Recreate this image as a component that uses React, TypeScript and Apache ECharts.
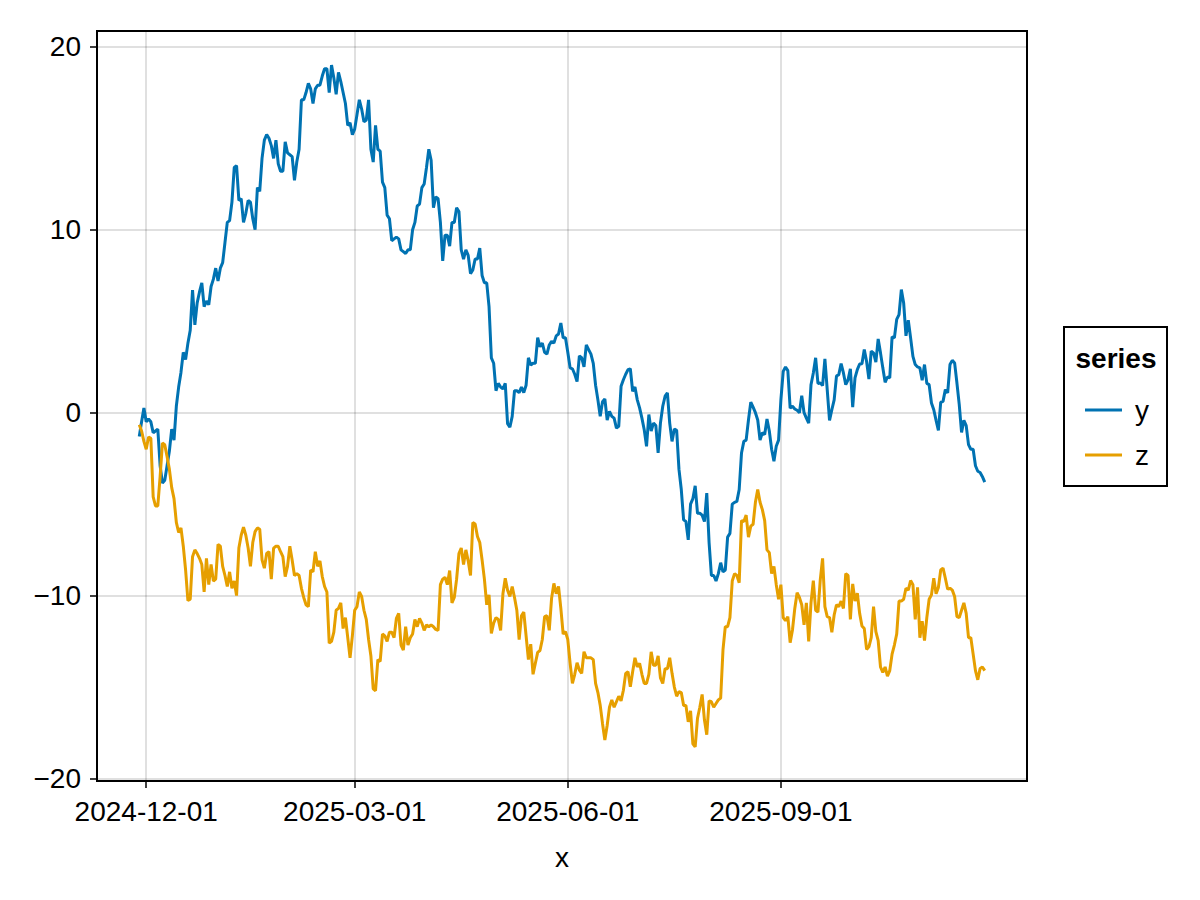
import React, { useEffect, useRef } from "react";
import * as echarts from "echarts";

const startDate = "2024-11-28";
const seriesNames = ["y", "z"];
const seriesColors = ["#0072B2", "#E69F00"];

const yValues = [
  -1.3, -0.5, 0.26, -0.5, -0.35, -0.5, -1.1, -1.0, -0.9, -2.9, -3.85, -3.7, -2.9, -2.1, -0.9, -1.5,
  0.35, 1.4, 2.2, 3.3, 2.9, 3.8, 4.5, 6.7, 4.8, 6.0, 6.6, 7.1, 5.8, 6.1, 5.9, 6.9, 7.3, 7.9, 7.2, 7.9, 8.2, 9.3, 10.4, 10.5, 11.5,
  13.4, 13.5, 11.6, 11.7, 10.4, 10.9, 11.6, 11.5, 10.6, 10.0, 12.3, 12.1, 13.9, 14.9, 15.2, 15.0, 14.6, 13.9, 14.9, 13.6,
  13.2, 13.2, 14.8, 14.2, 14.1, 14.0, 12.7, 13.7, 14.4,
  17.1, 17.1, 17.5, 18.0, 17.7, 16.9, 17.7, 17.9, 17.9, 18.4, 18.8, 18.8, 17.5, 19.0, 18.3, 17.4, 18.6, 18.1, 17.5, 16.9, 15.7,
  15.85, 15.2, 15.5, 16.3, 17.1, 16.6, 15.9, 16.0, 17.1, 14.4,
  13.7, 15.7, 14.4, 14.3, 12.6, 12.3, 10.8, 10.6, 9.4, 9.5,
  9.6, 9.5, 8.9, 8.8, 8.7, 8.9, 8.9, 10.0, 10.4, 11.3,
  11.4, 12.3, 12.5, 13.4, 14.4, 13.8, 11.2, 11.8, 11.7, 10.4,
  8.3, 9.7, 9.7, 9.1, 10.4, 10.4, 11.2, 11.0, 8.9, 8.4,
  8.9, 8.6, 7.6, 7.8, 8.4, 8.4, 9.0, 7.5, 7.1, 7.1,
  5.8, 3.0, 2.7, 1.2, 1.6, 1.4, 1.3, 1.6, -0.6, -0.8,
  -0.2, 1.2, 1.2, 1.1, 1.4, 1.1, 1.5, 3.0, 2.6, 2.7,
  2.7, 4.1, 3.6, 3.8, 3.3, 3.2, 3.7, 3.9, 3.8, 4.2,
  4.3,
  4.9, 4.1, 4.1, 3.3, 2.45, 2.4, 2.1, 1.7, 3.1, 3.0,
  2.5, 3.7, 3.45, 3.2, 2.7, 1.5, 0.7, -0.2, 0.6, 0.75,
  -0.4, 0.07, -0.2, -0.3, -0.84, -0.75, 1.44, 1.8, 2.1, 2.35,
  2.4, 1.17, 1.4, 0.7, 0.26, -0.3, -0.93, -1.84, -0.1, -1.0,
  -0.57, -0.7, -2.2, -0.57, 0.35, 0.9, 1.08, -0.57, -1.57, -0.9,
  -0.97, -3.1, -4.2, -5.86, -5.95, -6.95, -5.0, -4.7, -4.0, -5.5,
  -5.5, -5.6, -5.95, -4.4, -7.1, -8.9, -8.9, -9.2, -8.8, -8.2,
  -8.7, -8.6, -6.8, -6.6, -5.0, -4.9, -4.85, -4.2, -2.2, -1.57,
  -1.5, -0.4, 0.57, 0.3, 0.0, -0.4, -1.5, -1.1, -1.2, -0.35,
  -1.0, -2.0, -2.66, -1.84, -1.5,
  0.7, 2.26, 2.5, 2.3, 0.25, 0.35, 0.2, 0.13, 0.0, 0.93,
  0.0, -0.3, -0.57, 1.53, 2.17, 3.0, 1.6, 1.62, 1.48, 2.94,
  1.26, -0.42, 0.16, 0.7, 2.0, 2.08, 2.68, 2.17, 1.53, 1.8,
  2.4, 0.3, 1.9, 2.35, 2.66, 2.68, 3.45, 2.8, 1.84, 3.36,
  3.27, 2.76, 4.03, 3.27, 2.45, 1.66, 1.95, 1.9, 4.14, 4.09,
  5.1, 5.36, 6.73, 6.0, 4.2, 5.05, 4.09, 3.08, 2.63, 2.5,
  2.45, 1.77, 2.63, 1.6, 1.53, 0.53, 0.16, -0.42, -0.97, 0.57,
  0.62, 1.26, 1.08, 2.63, 2.86, 2.72, 1.62, 0.44, -1.08, -0.42,
  -0.71, -1.75, -2.0, -2.0, -2.9, -3.2, -3.27, -3.5, -3.8,
];

const zValues = [
  -0.66, -1.0, -1.57, -2.0, -1.33, -1.4, -4.6, -5.1, -5.1, -3.5,
  -1.66, -1.75, -2.4, -3.1, -4.1, -4.7, -6.0, -6.55, -6.3, -7.3,
  -8.6, -10.27, -10.2, -7.87, -7.5, -7.7, -7.96, -8.3, -9.8, -7.96,
  -9.4, -8.3, -9.2, -9.1, -7.2, -7.3, -8.4, -8.9, -9.5, -8.7,
  -9.6, -9.2, -10.0, -7.4, -6.7, -6.26, -6.7, -7.4, -8.4, -7.1,
  -6.5, -6.3, -6.37, -8.05, -8.5, -7.7, -7.6, -9.1, -7.4, -7.3,
  -7.3, -7.6, -7.87, -8.96, -8.4, -7.3, -8.05, -8.9, -8.8, -8.9,
  -9.6, -10.1, -10.5, -10.6, -8.6, -8.7, -7.6, -8.4, -8.1, -8.96,
  -9.5, -9.8, -12.6, -12.5, -12.0, -10.8,
  -10.7, -10.4, -11.8, -11.2, -12.3, -13.4, -12.2, -10.8, -10.6, -9.8,
  -10.05, -10.8, -11.3, -12.4, -13.3, -15.1, -15.2, -13.5, -13.6, -12.1,
  -12.2, -12.5, -12.0, -12.0, -12.3, -11.25, -10.97, -12.7, -12.98, -11.7,
  -12.7, -12.3, -12.1, -11.3, -11.7, -11.25, -11.5, -11.9, -11.6, -11.7,
  -11.6, -11.7, -11.85, -11.9, -9.4, -9.1, -9.0, -9.4, -8.63, -10.4,
  -10.1, -9.1, -7.7, -7.4, -8.3, -7.5, -8.1, -8.9, -6.0, -6.08,
  -6.77, -7.1, -8.05, -9.1, -10.5, -9.96, -12.06, -11.5, -11.2, -11.3,
  -11.9, -9.9, -9.05, -9.7, -10.05, -9.5, -10.1, -10.8, -12.4, -11.1,
  -10.9, -12.2, -13.5, -12.65, -14.3, -13.7, -13.1, -13.0, -12.4, -11.15,
  -11.1, -11.9, -10.15, -9.33, -9.9, -9.5,
  -10.7, -12.1, -11.97, -12.4, -13.7, -14.8, -14.3, -13.67, -14.07, -14.25,
  -13.07, -13.4, -13.4, -13.4, -13.5, -14.8, -15.3, -16.0, -17.0, -17.9,
  -17.1, -16.1, -15.7, -16.1, -15.8, -15.5, -15.75, -15.17, -14.25, -14.16,
  -14.98, -14.16, -13.4, -13.9, -13.7, -14.3, -14.8, -14.8, -14.3, -13.07,
  -13.8, -13.8, -13.3, -14.5, -14.8, -14.0, -14.0, -13.4, -14.25, -15.0,
  -15.5, -15.25, -15.3, -16.0, -16.0, -16.9, -16.3, -18.1, -18.27, -16.7,
  -16.1, -15.4, -16.8, -17.6, -15.75, -15.8, -16.1, -15.9, -15.7, -15.6,
  -12.97, -11.7, -11.7, -11.2, -9.2, -8.8, -8.9, -9.3, -5.9, -5.95,
  -5.6, -6.8, -6.2, -6.1, -4.9, -4.2, -4.9, -5.3, -5.9, -7.5,
  -7.65, -8.8, -8.4, -9.4, -10.2, -9.4, -11.2, -11.37, -11.15, -12.57,
  -11.88, -10.7, -9.84, -10.1, -10.5, -11.6, -10.4, -12.5, -10.4, -9.18,
  -10.8, -10.9, -9.14, -7.96, -10.6, -11.15, -11.2, -12.0, -11.06, -10.5,
  -10.6, -10.3, -10.7, -8.8, -8.9, -11.3, -9.36, -10.3, -9.87, -10.97,
  -11.66, -11.8, -12.94, -12.8, -12.3, -10.6, -11.97, -12.46, -13.9, -14.2,
  -13.9, -14.4, -14.1, -13.2, -12.7, -12.1, -10.3, -10.3, -10.2, -9.6,
  -9.7, -9.18, -9.4, -11.3, -9.55, -12.3, -11.4, -12.46, -11.2, -10.2,
  -9.96, -9.05, -9.9, -9.55, -8.6, -8.5, -9.05, -9.65, -9.6, -9.7,
  -10.05, -11.15, -11.2, -10.8, -10.4, -10.97, -12.3, -12.3, -13.2, -14.1,
  -14.6, -13.98, -13.9, -14.1,
];

const xTickLabels = ["2024-12-01", "2025-03-01", "2025-06-01", "2025-09-01"];
const yTickValues = [-20, -10, 0, 10, 20];
const legendTitle = "series";
const xAxisName = "x";

const DAY = 86400000;
const FONT = '"Liberation Sans", Arial, Helvetica, sans-serif';

function parseUTC(s: string): number {
  const [y, m, d] = s.split("-").map(Number);
  return Date.UTC(y, m - 1, d);
}
function fmtUTC(t: number): string {
  const d = new Date(t);
  const p = (n: number) => String(n).padStart(2, "0");
  return `${d.getUTCFullYear()}-${p(d.getUTCMonth() + 1)}-${p(d.getUTCDate())}`;
}
function fmtNum(v: number): string {
  return v < 0 ? "\u2212" + Math.abs(v) : String(v);
}

export default function App() {
  const ref = useRef<HTMLDivElement>(null);

  useEffect(() => {
    if (!ref.current) return;
    const chart = echarts.init(ref.current, null, { renderer: "svg" });

    const t0 = parseUTC(startDate);
    const toData = (vals: number[]) => vals.map((v, i) => [t0 + i * DAY, v]);
    const n = Math.max(yValues.length, zValues.length);
    const tN = t0 + (n - 1) * DAY;
    const xPad = 0.05 * (tN - t0);
    const all = yValues.concat(zValues);
    const yMin = Math.min(...all);
    const yMax = Math.max(...all);
    const yPad = 0.05 * (yMax - yMin);
    const xTicks = xTickLabels.map(parseUTC);

    const gridLine = { show: true, lineStyle: { color: "rgba(0,0,0,0.12)", width: 2 } };

    chart.setOption({
      animation: false,
      backgroundColor: "#ffffff",
      textStyle: { fontFamily: FONT },
      grid: {
        left: 97,
        right: 173,
        top: 31,
        bottom: 119,
        show: true,
        borderColor: "#000",
        borderWidth: 2,
        backgroundColor: "transparent",
      },
      xAxis: {
        type: "value",
        min: t0 - xPad,
        max: tN + xPad,
        name: xAxisName,
        nameLocation: "middle",
        nameGap: 62,
        nameTextStyle: { fontSize: 28, color: "#000", fontFamily: FONT },
        axisLine: { show: false, onZero: false },
        axisTick: {
          show: true,
          customValues: xTicks,
          length: 7,
          lineStyle: { color: "#000", width: 1.5 },
        },
        axisLabel: {
          customValues: xTicks,
          formatter: (v: number) => fmtUTC(v),
          fontSize: 28,
          color: "#000",
          fontFamily: FONT,
          margin: 16,
        },
        splitLine: gridLine,
      },
      yAxis: {
        type: "value",
        min: yMin - yPad,
        max: yMax + yPad,
        axisLine: { show: false, onZero: false },
        axisTick: {
          show: true,
          customValues: yTickValues,
          length: 7,
          lineStyle: { color: "#000", width: 1.5 },
        },
        axisLabel: {
          customValues: yTickValues,
          formatter: (v: number) => fmtNum(v),
          fontSize: 28,
          color: "#000",
          fontFamily: FONT,
          margin: 16,
        },
        splitLine: gridLine,
      },
      legend: {
        show: true,
        data: seriesNames,
        orient: "vertical",
        left: 1064,
        top: 327,
        padding: [66, 18, 14, 21],
        borderColor: "#000",
        borderWidth: 2,
        backgroundColor: "#fff",
        icon: "rect",
        itemWidth: 37,
        itemHeight: 3,
        itemGap: 11,
        textStyle: {
          fontSize: 28,
          lineHeight: 34,
          color: "#000",
          fontFamily: FONT,
          padding: [0, 0, 0, 8],
        },
      },
      graphic: [
        {
          type: "text",
          x: 1116,
          y: 358,
          z: 100,
          style: {
            text: legendTitle,
            align: "center",
            verticalAlign: "middle",
            fontSize: 28,
            fontWeight: "bold",
            fontFamily: FONT,
            fill: "#000",
          },
        },
      ],
      series: [
        {
          name: seriesNames[0],
          type: "line",
          data: toData(yValues),
          showSymbol: false,
          symbol: "none",
          color: seriesColors[0],
          lineStyle: { width: 3, color: seriesColors[0] },
        },
        {
          name: seriesNames[1],
          type: "line",
          data: toData(zValues),
          showSymbol: false,
          symbol: "none",
          color: seriesColors[1],
          lineStyle: { width: 3, color: seriesColors[1] },
        },
      ],
    });

    return () => chart.dispose();
  }, []);

  return (
    <div
      ref={ref}
      style={{ position: "fixed", left: 0, top: 0, width: 1200, height: 900, background: "#fff" }}
    />
  );
}
